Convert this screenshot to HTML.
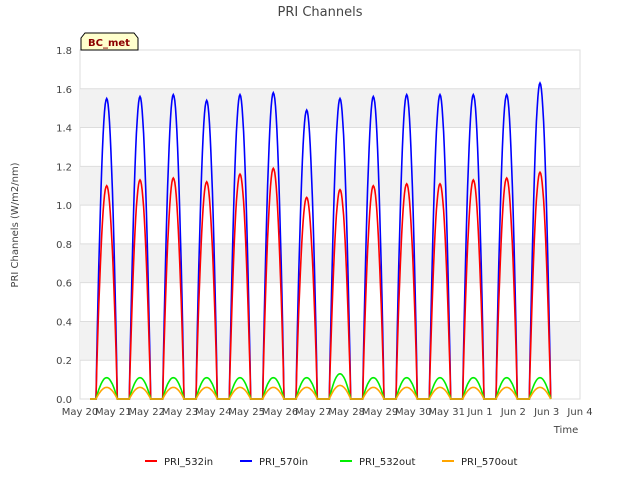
<!DOCTYPE html>
<html><head><meta charset="utf-8"><style>
body{margin:0;background:#fff;font-family:"DejaVu Sans","Liberation Sans",sans-serif;}
</style></head><body>
<svg width="640" height="480" xmlns="http://www.w3.org/2000/svg">
<g id="bands"></g>
<text x="320" y="16" text-anchor="middle" font-size="13" fill="#444">PRI Channels</text>
<text transform="translate(18,225) rotate(-90)" text-anchor="middle" font-size="10" fill="#444">PRI Channels (W/m2/nm)</text>
<text x="566" y="433" text-anchor="middle" font-size="10" fill="#444">Time</text>
<g id="axes"></g>
<g id="series"></g>
<g>
<path d="M81,50 L81,38 L85,33 L134,33 L138,38 L138,50 Z" fill="#ffffcc" stroke="#000" stroke-width="1"/>
<text x="109" y="46" text-anchor="middle" font-size="10" font-weight="bold" fill="#8b0000">BC_met</text>
</g>
<g id="legend"></g>
</svg>
<script>
const dayLabels=["May 20","May 21","May 22","May 23","May 24","May 25","May 26","May 27","May 28","May 29","May 30","May 31","Jun 1","Jun 2","Jun 3","Jun 4"];
const yTicks=[0,0.2,0.4,0.6,0.8,1.0,1.2,1.4,1.6,1.8];
const peak570in=[1.55,1.56,1.57,1.54,1.57,1.58,1.49,1.55,1.56,1.57,1.57,1.57,1.57,1.63];
const peak532in=[1.10,1.13,1.14,1.12,1.16,1.19,1.04,1.08,1.10,1.11,1.11,1.13,1.14,1.17];
const peak532out=[0.11,0.11,0.11,0.11,0.11,0.11,0.11,0.13,0.11,0.11,0.11,0.11,0.11,0.11];
const peak570out=[0.06,0.06,0.06,0.06,0.06,0.06,0.06,0.07,0.06,0.06,0.06,0.06,0.06,0.06];
const X0=80,X1=580,Y0=399,Y1=50;
const xs=d=>X0+(X1-X0)*d/15;
const ys=v=>Y0-(Y0-Y1)*v/1.8;
const NS="http://www.w3.org/2000/svg";
function mk(tag,attrs,parent){const e=document.createElementNS(NS,tag);for(const k in attrs)e.setAttribute(k,attrs[k]);parent.appendChild(e);return e;}
const bands=document.getElementById('bands');
const bg=mk('rect',{x:X0,y:Y1,width:X1-X0,height:Y0-Y1,fill:'#fff',stroke:'#ddd'},bands);


for(let i=0;i<yTicks.length-1;i++){
 if(i%2==1){const r=mk('rect',{x:X0,y:ys(yTicks[i+1]),width:X1-X0,height:ys(yTicks[i])-ys(yTicks[i+1]),fill:'#f2f2f2'},bands);
 
 }
}
const axes=document.getElementById('axes');
yTicks.forEach(v=>{
 const l=mk('line',{x1:X0,x2:X1,y1:ys(v),y2:ys(v),stroke:'#ddd'},axes);
 
 
 const t=mk('text',{x:X0-8,y:ys(v)+4,'text-anchor':'end','font-size':10,fill:'#444'},axes);
 t.textContent=v.toFixed(1);
 
 
});
dayLabels.forEach((lab,i)=>{
 const t=mk('text',{x:xs(i),y:Y0+16,'text-anchor':'middle','font-size':10,fill:'#444'},axes);
 t.textContent=lab;
 
 
});
const ser=document.getElementById('series');
function build(peaks){
 let pts=[[0.3,0]];
 peaks.forEach((p,d)=>{
  pts.push([d+0.48,0]);
  for(let k=1;k<30;k++){const f=k/30;pts.push([d+0.48+0.64*f,p*Math.pow(Math.sin(Math.PI*f),0.9)]);}
  pts.push([d+1.12,0]);
 });
 return pts.map((q,i)=>(i?'L':'M')+xs(q[0]).toFixed(1)+','+ys(q[1]).toFixed(1)).join('');
}
const series=[["PRI_532in",peak532in,"#ff0000"],["PRI_570in",peak570in,"#0000ff"],["PRI_532out",peak532out,"#00ee00"],["PRI_570out",peak570out,"#ffa500"]];
[series[1],series[0],series[2],series[3]].forEach(s=>{
 const p=mk('path',{d:build(s[1]),fill:'none',stroke:s[2],'stroke-width':1.6},ser);
 
 
});
const leg=document.getElementById('legend');
const lx=[145,240,340,442];
series.forEach((s,i)=>{
 const g=mk('g',{},leg);
 
 
 mk('line',{x1:lx[i],x2:lx[i]+12,y1:461,y2:461,stroke:s[2],'stroke-width':2},g);
 const t=mk('text',{x:lx[i]+19,y:465,'font-size':10,fill:'#222'},g);
 t.textContent=s[0];
});
</script>
</body></html>
